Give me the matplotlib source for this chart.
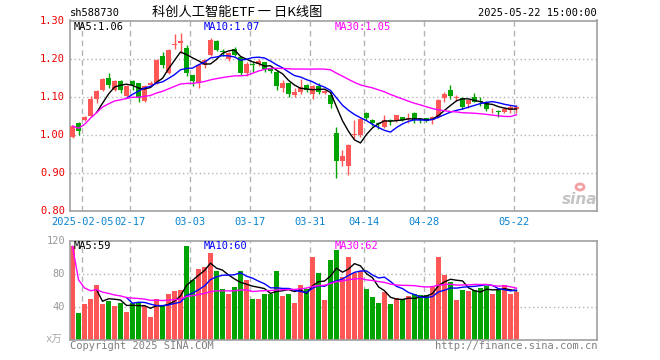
import numpy as np
import pandas as pd
import matplotlib
matplotlib.use("Agg")
import matplotlib.pyplot as plt

plt.rcParams['font.family'] = ['DejaVu Sans Mono', 'Noto Sans CJK SC']

# daily candles, 2025-01-24 .. 2025-05-22 (75 sessions)
opens = [0.995, 1.030, 1.038, 1.049, 1.093, 1.117, 1.150, 1.117, 1.142, 1.103,
         1.140, 1.135, 1.088, 1.130, 1.137, 1.207, 1.163, 1.235, 1.240, 1.229,
         1.156, 1.135, 1.183, 1.209, 1.246, 1.220, 1.200, 1.226, 1.203, 1.162,
         1.186, 1.185, 1.190, 1.175, 1.165, 1.124, 1.135, 1.104, 1.112, 1.130,
         1.106, 1.128, 1.109, 1.104, 1.004, 0.930, 0.917, 1.000, 0.999, 1.058,
         1.040, 1.030, 1.020, 1.040, 1.036, 1.046, 1.041, 1.058, 1.042, 1.043,
         1.039, 1.047, 1.096, 1.118, 1.096, 1.096, 1.082, 1.100, 1.088, 1.087,
         1.064, 1.063, 1.061, 1.065, 1.067]
highs = [1.026, 1.033, 1.050, 1.102, 1.118, 1.150, 1.163, 1.144, 1.145, 1.131,
         1.143, 1.137, 1.130, 1.140, 1.198, 1.217, 1.225, 1.264, 1.268, 1.235,
         1.158, 1.186, 1.198, 1.253, 1.248, 1.226, 1.218, 1.231, 1.205, 1.190,
         1.191, 1.200, 1.192, 1.178, 1.168, 1.144, 1.137, 1.124, 1.147, 1.134,
         1.131, 1.137, 1.118, 1.115, 1.021, 0.961, 0.975, 1.040, 1.044, 1.060,
         1.042, 1.033, 1.053, 1.042, 1.053, 1.048, 1.056, 1.060, 1.044, 1.045,
         1.049, 1.093, 1.113, 1.132, 1.105, 1.098, 1.093, 1.109, 1.098, 1.089,
         1.070, 1.064, 1.073, 1.077, 1.079]
lows = [0.992, 0.999, 1.036, 1.047, 1.084, 1.114, 1.124, 1.114, 1.109, 1.100,
        1.117, 1.086, 1.086, 1.127, 1.134, 1.175, 1.160, 1.224, 1.216, 1.154,
        1.128, 1.122, 1.175, 1.206, 1.220, 1.207, 1.193, 1.206, 1.156, 1.155,
        1.165, 1.180, 1.165, 1.163, 1.118, 1.112, 1.100, 1.100, 1.106, 1.112,
        1.095, 1.106, 1.106, 1.070, 0.887, 0.917, 0.894, 0.990, 0.995, 1.040,
        1.022, 1.015, 1.017, 1.025, 1.034, 1.036, 1.031, 1.030, 1.031, 1.033,
        1.029, 1.045, 1.087, 1.094, 1.090, 1.067, 1.071, 1.085, 1.076, 1.062,
        1.058, 1.047, 1.058, 1.056, 1.058]
closes = [1.023, 1.011, 1.048, 1.093, 1.115, 1.147, 1.131, 1.141, 1.117, 1.128,
          1.131, 1.097, 1.128, 1.137, 1.196, 1.183, 1.222, 1.239, 1.246, 1.163,
          1.140, 1.183, 1.196, 1.248, 1.223, 1.218, 1.216, 1.209, 1.163, 1.186,
          1.184, 1.194, 1.174, 1.168, 1.128, 1.137, 1.108, 1.112, 1.126, 1.118,
          1.128, 1.112, 1.115, 1.082, 0.931, 0.944, 0.974, 1.002, 1.042, 1.043,
          1.030, 1.028, 1.040, 1.037, 1.051, 1.038, 1.043, 1.040, 1.038, 1.037,
          1.047, 1.091, 1.108, 1.102, 1.098, 1.073, 1.091, 1.087, 1.086, 1.069,
          1.066, 1.061, 1.068, 1.072, 1.072]
# volume, in 10k lots
volumes = [113.5, 32, 43, 49, 66, 43, 47, 40.5, 44, 33,
           44, 44.6, 40.5, 28, 49, 42, 55, 59, 60, 113.5,
           73, 85.5, 88, 105, 83, 61, 56, 64, 84, 72,
           49, 49, 56, 55, 84, 53, 56, 44, 66, 61,
           100, 81, 48, 96.5, 108.6, 76, 100, 81, 83, 61,
           51.5, 44, 57.6, 43, 50, 49, 52.7, 55, 54, 54,
           64, 101, 78, 70, 48, 60, 59, 60, 62.4, 65,
           56, 60, 66, 56, 57.6]

tick_idx = [2, 10, 20, 30, 40, 49, 59, 74]
tick_labels = ["2025-02-05", "02-17", "03-03", "03-17", "03-31", "04-14", "04-28", "05-22"]

price_ticks = [0.80, 0.90, 1.00, 1.10, 1.20, 1.30]
vol_ticks = [40, 80, 120]

RED = "#ff5656"
GREEN = "#00a400"
GRID = "#b4b4b4"

o = np.array(opens); h = np.array(highs); l = np.array(lows); c = np.array(closes)
v = np.array(volumes)
x = np.arange(len(c))
up = c >= o
cols = np.where(up, RED, GREEN)

cs = pd.Series(c)
vs = pd.Series(v)
ma5 = cs.rolling(5).mean(); ma10 = cs.rolling(10).mean(); ma30 = cs.rolling(30, min_periods=1).mean()
vma5 = vs.rolling(5).mean(); vma10 = vs.rolling(10).mean(); vma30 = vs.rolling(30, min_periods=1).mean()

W, H = 660, 360
fig = plt.figure(figsize=(6.6, 3.6), dpi=100)

def px_axes(left, top, right, bottom):
    return fig.add_axes([left / W, 1 - bottom / H, (right - left) / W, (bottom - top) / H])

ax = px_axes(70, 20.5, 597, 211)
axv = px_axes(70, 241, 597, 339.5)

xlim = (-0.417, 87.417)
bw = 5 / 6.0

for a in (ax, axv):
    a.set_xlim(*xlim)
    a.set_xticks([])
    a.set_yticks([])
    for s in a.spines.values():
        s.set_color("#a0a0a0")
        s.set_linewidth(1.2)
    for i in tick_idx:
        a.axvline(i - 0.42, color=GRID, lw=1, ls=(0, (4, 3)), zorder=0)

# price panel
ax.set_ylim(0.80, 1.30)
for p in price_ticks[1:-1]:
    ax.axhline(p, color=GRID, lw=1, ls=(0, (1, 2)), zorder=0)
ax.vlines(x, l, h, colors=cols, lw=1, zorder=2)
body_lo = np.minimum(o, c)
body_h = np.maximum(np.abs(c - o), 0.0015)
ax.bar(x, body_h, bottom=body_lo, width=bw, color=cols, linewidth=0, zorder=3)
ax.plot(x, ma5, color="black", lw=1, zorder=4)
ax.plot(x, ma10, color="#0000ff", lw=1, zorder=4)
ax.plot(x, ma30, color="#ff00ff", lw=1, zorder=4)

# volume panel
axv.set_ylim(0, 120)
for p in vol_ticks[:-1]:
    axv.axhline(p, color=GRID, lw=1, ls=(0, (1, 2)), zorder=0)
axv.bar(x, v, width=bw, color=cols, linewidth=0, zorder=2)
axv.plot(x, vma5, color="black", lw=1, zorder=4)
axv.plot(x, vma10, color="#0000ff", lw=1, zorder=4)
axv.plot(x, vma30, color="#ff00ff", lw=1, zorder=4)

def ftext(px, py, s, **kw):
    kw.setdefault("fontsize", 7.5)
    kw.setdefault("va", "center")
    fig.text(px / W, 1 - py / H, s, **kw)

# header
ftext(70, 13, "sh588730", color="black")
ftext(237, 12, "科创人工智能ETF 一 日K线图", ha="center", fontsize=9.5, color="black",
      family=['Noto Sans CJK SC', 'DejaVu Sans'])
ftext(597, 13, "2025-05-22 15:00:00", ha="right", color="black")

# MA labels
ftext(74, 27, "MA5:1.06", color="black")
ftext(204, 27, "MA10:1.07", color="#0000ff")
ftext(335, 27, "MA30:1.05", color="#ff00ff")
ftext(74, 246, "MA5:59", color="black")
ftext(204, 246, "MA10:60", color="#0000ff")
ftext(335, 246, "MA30:62", color="#ff00ff")

# y tick labels
for p in price_ticks:
    py = 211 - (p - 0.80) / 0.50 * 190.5
    ftext(65, py, "%.2f" % p, ha="right", color="#ee0000")
for p in vol_ticks:
    py = 339.5 - p / 120 * 98.5
    ftext(65, py, "%d" % p, ha="right", color="#999999")
ftext(62, 340, "x万", ha="right", color="#aaaaaa", family=['DejaVu Sans Mono', 'Noto Sans CJK SC'])

# date labels
for i, lab in zip(tick_idx, tick_labels):
    ftext(70 + 6 * i, 222, lab, ha="center", color="#0a84d0")

# footer
ftext(70, 346, "Copyright 2025 SINA.COM", color="#808080")
ftext(597, 346, "http://finance.sina.com.cn", ha="right", color="#808080")

# sina watermark
ftext(580, 199, "sina", ha="center", fontsize=11, color="#c4c4c4", fontweight="bold",
      style="italic", family="DejaVu Sans")
fig.patches.append(matplotlib.patches.Ellipse((580 / W, 1 - 187 / H), 8 / W, 6 / H,
                   transform=fig.transFigure, fill=False, ec="#f4a0a0", lw=2))

fig.savefig("out.png", dpi=100)
